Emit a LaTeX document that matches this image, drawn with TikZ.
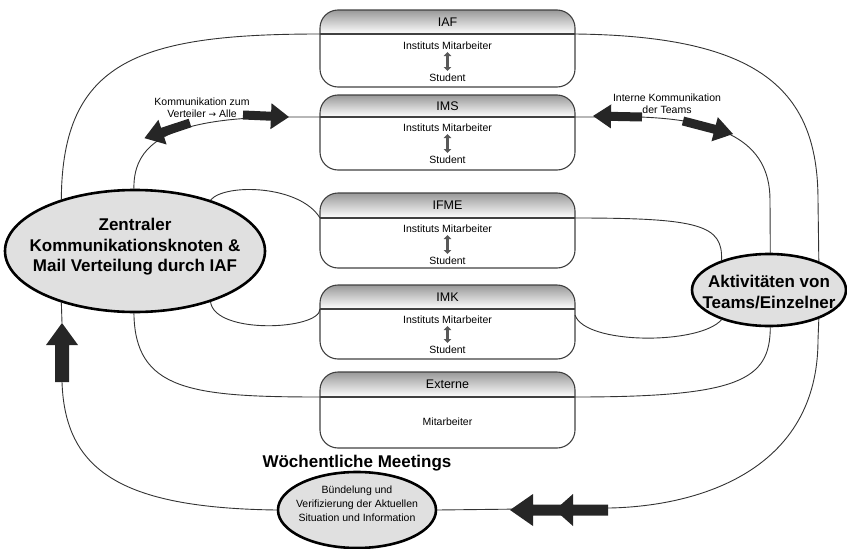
\documentclass[tikz,border=0pt]{standalone}
\usepackage{fontspec}
\setmainfont{Liberation Sans}
\newfontfamily\arrowfont{DejaVu Sans}
\usetikzlibrary{shapes.geometric,arrows.meta}
\newcommand\instbox[4]{%
  \begin{scope}
    \clip[rounded corners=18pt] (320,#2) rectangle (575,#4);
    \shade[top color=gray!80, bottom color=white] (320,#2) rectangle (575,#3);
  \end{scope}
  \node[instframe, minimum height={#4-#2}] (#1) at (447.5,{(#2+#4)/2}) {};
  \coordinate (#1-l) at (320,#3);
  \coordinate (#1-r) at (575,#3);
  \draw[black!75, line width=1.1pt] (#1-l) -- (#1-r);
}
% x, y, canvas angle, total length, shaft thickness, head width, head length
\newcommand\fatarr[7]{%
  \fill[fatfill, shift={(#1,#2)}, rotate=#3]
    (0,{-#5/2}) -- ({#4-#7},{-#5/2}) -- ({#4-#7},{-#6/2}) -- (#4,0)
    -- ({#4-#7},{#6/2}) -- ({#4-#7},{#5/2}) -- (0,{#5/2}) -- cycle;
}
\begin{document}
\begin{tikzpicture}[x=1pt,y=-1pt,
  instframe/.style={draw=black!75, line width=1.1pt, rounded corners=18pt, minimum width=255pt, inner sep=0pt},
  conn/.style={draw=black!80, line width=0.9pt},
  bigell/.style={ellipse, draw=black, line width=2.6pt, fill=black!12, inner sep=0pt},
  fatfill/.style={fill=black!85},
  ttl/.style={font=\fontsize{12.5}{14}\selectfont, inner sep=0pt},
  small/.style={font=\fontsize{10.5}{12}\selectfont, inner sep=0pt, align=center},
  bigtxt/.style={font=\bfseries\fontsize{17}{20.5}\selectfont, inner sep=0pt, align=center},
  minarrow/.style={line width=2.4pt, black!65, {Triangle[length=4pt,width=7.5pt]}-{Triangle[length=4pt,width=7.5pt]}}
]
\useasboundingbox (0,0) rectangle (847,549);

% institute boxes
\instbox{iaf}{10}{34}{87}
\instbox{ims}{95}{117}{170}
\instbox{ifme}{193}{218}{268}
\instbox{imk}{285}{309}{359}
\instbox{ext}{372}{397}{448}
\coordinate (imk-r2) at (575,315);

\node[ttl] (iaf-t) at (447.5,22) {IAF};
\node[small] (iaf-m) at (447.5,46) {Instituts Mitarbeiter};
\node[small] (iaf-s) at (447.5,78) {Student};
\draw[minarrow] (447.5,52) -- (447.5,71);

\node[ttl] (ims-t) at (447.5,106) {IMS};
\node[small] (ims-m) at (447.5,128) {Instituts Mitarbeiter};
\node[small] (ims-s) at (447.5,160) {Student};
\draw[minarrow] (447.5,134) -- (447.5,153);

\node[ttl] (ifme-t) at (447.5,205) {IFME};
\node[small] (ifme-m) at (447.5,229) {Instituts Mitarbeiter};
\node[small] (ifme-s) at (447.5,261) {Student};
\draw[minarrow] (447.5,235) -- (447.5,254);

\node[ttl] (imk-t) at (447.5,297) {IMK};
\node[small] (imk-m) at (447.5,320) {Instituts Mitarbeiter};
\node[small] (imk-s) at (447.5,350) {Student};
\draw[minarrow] (447.5,326) -- (447.5,343);

\node[ttl] (ext-t) at (447.5,384) {Externe};
\node[small] (ext-m) at (447.5,422) {Mitarbeiter};

% ellipses
\node[bigell, minimum width=260pt, minimum height=122pt] (zk) at (135,251) {};
\node[bigtxt] (zk-t) at (135,247) {Zentraler\\Kommunikationsknoten \&\\Mail Verteilung durch IAF};
\node[bigell, minimum width=154pt, minimum height=72pt] (ak) at (769,290) {};
\node[bigtxt] (ak-t) at (769,292) {Aktivitäten von\\Teams/Einzelner};
\node[bigell, minimum width=158pt, minimum height=76pt] (bm) at (357,510) {};
\node[small, font=\fontsize{10.5}{14}\selectfont] (bm-t) at (357,504) {Bündelung und\\Verifizierung der Aktuellen\\Situation und Information};
\node[bigtxt] (wm) at (357,463) {Wöchentliche Meetings};

% connectors
\coordinate (upT) at (62,323);
\coordinate (upB) at (62,382);
\draw[conn] (zk.145) .. controls (62,60) and (140,34) .. (iaf-l);
\draw[conn] (iaf-r) .. controls (760,36) and (818,90) .. (818,200) -- (ak.30);
\draw[conn] (zk.91) .. controls (133,140) and (175,117) .. (290,117) -- (ims-l);
\draw[conn] (ims-r) -- (640,117) .. controls (720,120) and (770,140) .. (770,200) -- (ak.88);
\draw[conn] (zk.34) .. controls (225,183) and (300,185) .. (ifme-l);
\draw[conn] (ifme-r) .. controls (700,218) and (723,225) .. (ak.148);
\draw[conn] (zk.-34) .. controls (215,335) and (320,330) .. (imk-l);
\draw[conn] (imk-r2) .. controls (585,345) and (700,345) .. (ak.-148);
\draw[conn] (zk.-91) .. controls (135,390) and (190,397) .. (ext-l);
\draw[conn] (ext-r) .. controls (740,397) and (770,380) .. (ak.-88);
\draw[conn] (ak.-30) -- (818,340) .. controls (818,470) and (700,506) .. (610,508) -- (bm.east);
\draw[conn] (bm.west) .. controls (120,508) and (65,470) .. (upB);
\draw[conn] (upT) -- (zk.-145);

% thick arrows
\fatarr{190}{123}{198.4}{48}{9}{26}{19}
\fatarr{243}{115}{-2.5}{46}{9}{26}{18}
\fatarr{642}{117}{178.8}{49}{9}{24}{18}
\fatarr{683}{121}{-14.6}{51.7}{9}{25}{19}
\fatarr{565}{510}{180}{55}{11}{32}{23}
\fatarr{608}{510}{180}{53}{11}{32}{18}
\fatarr{62}{382}{90}{59}{14}{32}{22}

% labels
\node[small] (lbl1) at (202,108) {Kommunikation zum\\Verteiler {\arrowfont\fontsize{9}{12}\selectfont →} Alle};
\node[small] (lbl2) at (667,104) {Interne Kommunikation\\der Teams};
\end{tikzpicture}
\end{document}
